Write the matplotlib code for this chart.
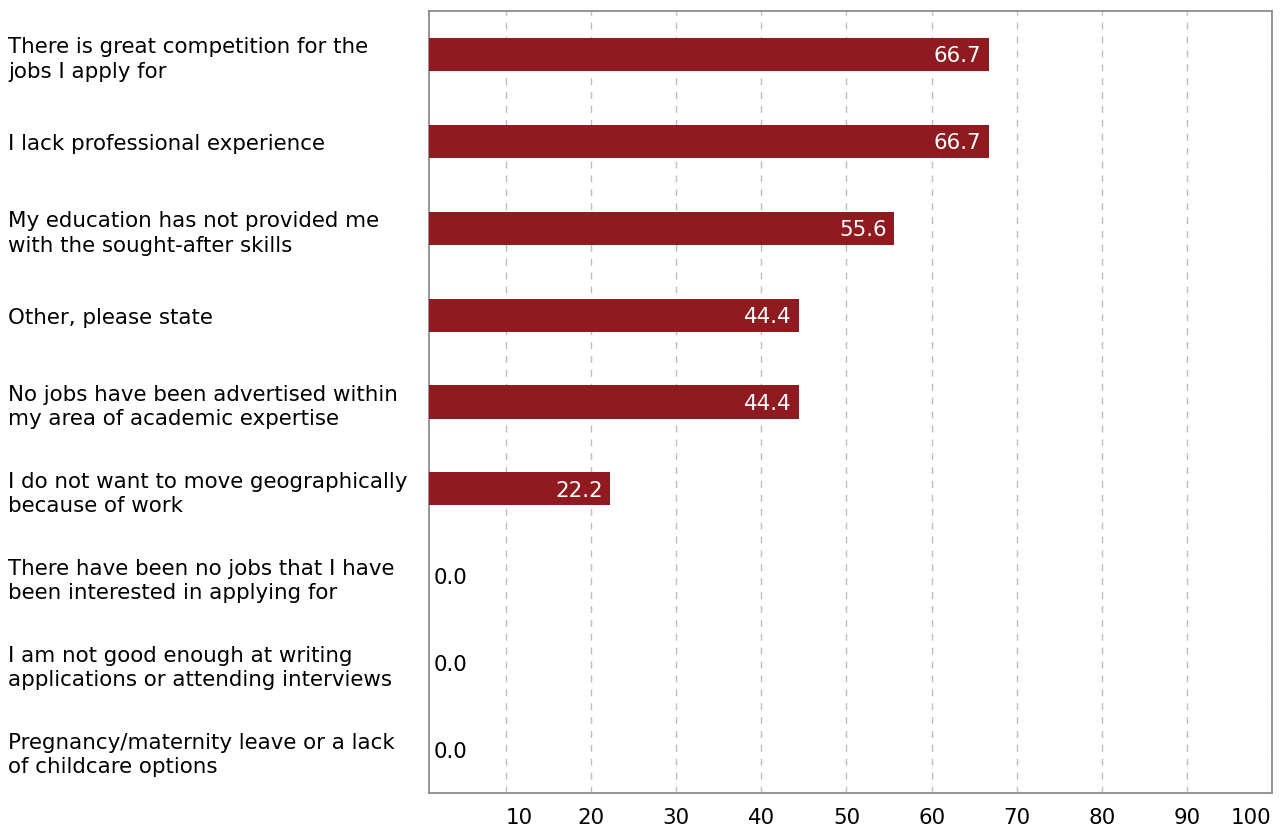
import matplotlib.pyplot as plt
from matplotlib.transforms import offset_copy

# data
reasons = [
    "There is great competition for the\njobs I apply for",
    "I lack professional experience",
    "My education has not provided me\nwith the sought-after skills",
    "Other, please state",
    "No jobs have been advertised within\nmy area of academic expertise",
    "I do not want to move geographically\nbecause of work",
    "There have been no jobs that I have\nbeen interested in applying for",
    "I am not good enough at writing\napplications or attending interviews",
    "Pregnancy/maternity leave or a lack\nof childcare options",
]
percent = [66.7, 66.7, 55.6, 44.4, 44.4, 22.2, 0.0, 0.0, 0.0]
xticks = [10, 20, 30, 40, 50, 60, 70, 80, 90, 100]

bar_color = "#8f1a1f"
fs = 15.4

fig = plt.figure(figsize=(12.81, 8.29), dpi=100)
ax = fig.add_axes([429 / 1281, 35 / 829, 843 / 1281, 782 / 829])

ypos = list(range(len(reasons)))
bars = ax.barh(ypos, percent, height=0.38, color=bar_color, zorder=3)

ax.set_xlim(0.95, 100)
ax.set_ylim(len(reasons) - 0.5, -0.5)

# value labels
for y, v in zip(ypos, percent):
    if v > 5:
        t = offset_copy(ax.transData, fig=fig, x=-7, y=-1, units="dots")
        ax.text(v, y, f"{v:.1f}", color="white", fontsize=fs, ha="right",
                va="center", transform=t, zorder=4)
    else:
        t = offset_copy(ax.transData, fig=fig, x=5, y=-1, units="dots")
        ax.text(ax.get_xlim()[0], y, f"{v:.1f}", color="black", fontsize=fs,
                ha="left", va="center", transform=t, zorder=4)

# y labels, left aligned at figure edge
ax.set_yticks(ypos)
ax.set_yticklabels(reasons, fontsize=fs, ha="left", linespacing=1.27)
ax.tick_params(axis="y", length=0, pad=421 * 72 / 100)

# x grid and tick labels
ax.set_xticks(xticks)
ax.set_xticklabels([])
ax.tick_params(axis="x", length=0)
ax.grid(axis="x", linestyle=(0, (5, 5)), color="#bdbdbd", linewidth=1, zorder=0)
shifts = {10: 13, 100: -21}
for xt in xticks:
    t = offset_copy(ax.get_xaxis_transform(), fig=fig, x=shifts.get(xt, 0), y=-24, units="dots")
    ax.text(xt, 0, str(xt), fontsize=fs, ha="center", va="center", transform=t)

for s in ax.spines.values():
    s.set_color("#8c8c8c")
    s.set_linewidth(1.3)

fig.savefig("out.png", dpi=100)
